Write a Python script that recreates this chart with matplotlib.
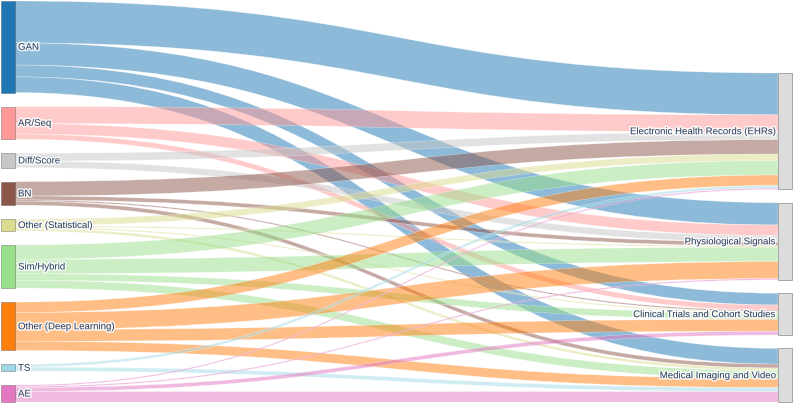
import numpy as np
import matplotlib.pyplot as plt
from matplotlib.path import Path
from matplotlib.patches import PathPatch, Rectangle
from matplotlib.colors import to_rgba
import matplotlib.patheffects as pe

# =========================
# Data
# =========================
sources = ["GAN", "AR/Seq", "Diff/Score", "BN", "Other (Statistical)",
           "Sim/Hybrid", "Other (Deep Learning)", "TS", "AE"]
targets = ["Electronic Health Records (EHRs)", "Physiological Signals",
           "Clinical Trials and Cohort Studies", "Medical Imaging and Video"]

# flows: one row per source, columns follow `targets`
gan_flows = [32, 17, 9, 12]
arseq_flows = [13, 8, 4, 0]
diff_flows = [6, 5, 0, 0]
bn_flows = [11, 3, 1, 3]
ostat_flows = [5, 1, 1, 2]
sim_flows = [11, 11, 5, 6]
odl_flows = [8, 13, 9, 7]
ts_flows = [2, 0, 0, 3]
ae_flows = [1, 1, 3, 8]

source_colors = ["#1f77b4", "#ff9896", "#c7c7c7", "#8c564b", "#dbdb8d",
                 "#98df8a", "#ff7f0e", "#9edae5", "#e377c2"]
target_color = "#dcdcdc"

flows = np.array([gan_flows, arseq_flows, diff_flows, bn_flows, ostat_flows,
                  sim_flows, odl_flows, ts_flows, ae_flows], dtype=float)

# =========================
# Layout (pixel space)
# =========================
W, H = 794, 403
fig = plt.figure(figsize=(W / 100, H / 100), dpi=100)
ax = fig.add_axes([0, 0, 1, 1])
ax.set_xlim(0, W)
ax.set_ylim(H, 0)
ax.set_axis_off()

top, bottom = 1.0, 402.0
gap = 14.0
src_tot = flows.sum(axis=1)
tgt_tot = flows.sum(axis=0)
scale = (bottom - top - gap * (len(sources) - 1)) / src_tot.sum()

x_left0, x_left1 = 1.0, 15.0
x_right0, x_right1 = 778.0, 792.0

# left column
src_y = []
y = top
for t in src_tot:
    src_y.append(y)
    y += t * scale + gap

# right column
right_top = 73.0
rgap = (bottom - right_top - tgt_tot.sum() * scale) / (len(targets) - 1)
tgt_y = []
y = right_top
for t in tgt_tot:
    tgt_y.append(y)
    y += t * scale + rgap

# ---- links ----
src_off = list(src_y)
tgt_off = list(tgt_y)
xm = (x_left1 + x_right0) / 2
for i in range(len(sources)):
    for j in range(len(targets)):
        v = flows[i, j]
        if v <= 0:
            continue
        h = v * scale
        y0a, y0b = src_off[i], src_off[i] + h
        y1a, y1b = tgt_off[j], tgt_off[j] + h
        src_off[i] += h
        tgt_off[j] += h
        verts = [(x_left1, y0a), (xm, y0a), (xm, y1a), (x_right0, y1a),
                 (x_right0, y1b), (xm, y1b), (xm, y0b), (x_left1, y0b),
                 (x_left1, y0a)]
        codes = [Path.MOVETO, Path.CURVE4, Path.CURVE4, Path.CURVE4,
                 Path.LINETO, Path.CURVE4, Path.CURVE4, Path.CURVE4,
                 Path.CLOSEPOLY]
        ax.add_patch(PathPatch(Path(verts, codes),
                               facecolor=to_rgba(source_colors[i], 0.5),
                               edgecolor=(1, 1, 1, 0.6), linewidth=0.3,
                               zorder=2))

# ---- nodes + labels ----
halo = [pe.withStroke(linewidth=2.2, foreground="white", alpha=0.85)]
label_kw = dict(fontsize=6.95, color="#2a3f5f", va="center",
                family=["Liberation Sans", "DejaVu Sans"], zorder=5,
                path_effects=halo)

for i, name in enumerate(sources):
    h = src_tot[i] * scale
    ax.add_patch(Rectangle((x_left0, src_y[i]), x_left1 - x_left0, h,
                           facecolor=source_colors[i],
                           edgecolor=(0.27, 0.27, 0.27, 0.5),
                           linewidth=0.5, zorder=3))
    ax.text(x_left1 + 3, src_y[i] + h / 2, name, ha="left", **label_kw)

for j, name in enumerate(targets):
    h = tgt_tot[j] * scale
    ax.add_patch(Rectangle((x_right0, tgt_y[j]), x_right1 - x_right0, h,
                           facecolor=target_color,
                           edgecolor=(0.27, 0.27, 0.27, 0.6),
                           linewidth=0.5, zorder=3))
    ax.text(x_right0 - 3, tgt_y[j] + h / 2, name, ha="right", **label_kw)

fig.savefig("out.png", dpi=100, facecolor="white")
